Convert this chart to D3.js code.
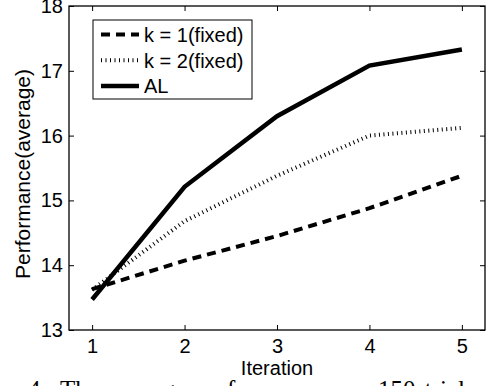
<!DOCTYPE html>
<html>
<head>
<meta charset="utf-8">
<style>
body { margin: 0; background: #fff; }
svg { display: block; background: #fff; }
svg text { font-family: "Liberation Sans", Arial, Helvetica, sans-serif; font-size: 20px; fill: #000; }
.caption { font-family: "Liberation Serif", "Times New Roman", serif; font-size: 25px; }
.tick line { stroke: #000; stroke-width: 1; }
.line { fill: none; stroke: #000; }
</style>
</head>
<body>
<div id="container"></div>
<script src="https://d3js.org/d3.v7.min.js"></script>
<script>

const width = 486;
const height = 386;

// values
const iterations = [1, 2, 3, 4, 5];
const k1Fixed = [13.63, 14.07, 14.45, 14.88, 15.38];
const k2Fixed = [13.62, 14.68, 15.38, 16.00, 16.12];
const alValues = [13.47, 15.21, 16.30, 17.08, 17.33];
const yTicks = [13, 14, 15, 16, 17, 18];
const seriesNames = ["k = 1(fixed)", "k = 2(fixed)", "AL"];

const plotL = 69, plotR = 485, plotT = 6, plotB = 330;

const x = d3.scaleLinear().domain([0.75, 5.25]).range([plotL, plotR]);
const y = d3.scaleLinear().domain([13, 18]).range([plotB, plotT]);

const svg = d3.select('#container').append('svg')
    .attr('width', width).attr('height', height);

// series styles (matlab-ish: dashed, dotted, solid)
const styles = [
    {width: 4, dash: "9,6"},
    {width: 4, dash: "1,3.5"},
    {width: 4.5, dash: null}
];
const series = [k1Fixed, k2Fixed, alValues];

const line = d3.line()
    .x((d, i) => x(iterations[i]))
    .y(d => y(d));

series.forEach((s, i) => {
    svg.append('path')
        .attr('class', 'line')
        .attr('d', line(s))
        .attr('stroke-width', styles[i].width)
        .attr('stroke-dasharray', styles[i].dash);
});

// axes, ticks pointing inward on all four sides
svg.append('g')
    .attr('transform', `translate(0,${plotB})`)
    .call(d3.axisBottom(x).tickValues(iterations).tickSize(-5).tickPadding(9).tickFormat(d3.format('d')))
    .call(g => g.select('.domain').remove())
    .selectAll('text').style('font-size', '20px').style('font-family', null);

svg.append('g')
    .attr('transform', `translate(0,${plotT})`)
    .call(d3.axisTop(x).tickValues(iterations).tickSize(-5).tickFormat(''))
    .call(g => g.select('.domain').remove());

svg.append('g')
    .attr('transform', `translate(${plotL},0)`)
    .call(d3.axisLeft(y).tickValues(yTicks).tickSize(-5).tickPadding(6).tickFormat(d3.format('d')))
    .call(g => g.select('.domain').remove())
    .selectAll('text').style('font-size', '20px').style('font-family', null);

svg.append('g')
    .attr('transform', `translate(${plotR},0)`)
    .call(d3.axisRight(y).tickValues(yTicks).tickSize(-5).tickFormat(''))
    .call(g => g.select('.domain').remove());

svg.append('rect')
    .attr('x', plotL).attr('y', plotT)
    .attr('width', plotR - plotL).attr('height', plotB - plotT)
    .attr('fill', 'none').attr('stroke', '#000').attr('stroke-width', 1.3);

// axis titles
svg.append('text')
    .attr('x', (plotL + plotR) / 2).attr('y', 375)
    .attr('text-anchor', 'middle')
    .text('Iteration');

svg.append('text')
    .attr('transform', `translate(30,${(plotT + plotB) / 2 + 6}) rotate(-90)`)
    .attr('text-anchor', 'middle')
    .style('font-size', '21px')
    .text('Performance(average)');

// legend
const legend = svg.append('g').attr('transform', 'translate(93,20)');
legend.append('rect')
    .attr('width', 159).attr('height', 79)
    .attr('fill', '#fff').attr('stroke', '#000').attr('stroke-width', 1);

seriesNames.forEach((name, i) => {
    const ry = 14.5 + i * 25.7;
    legend.append('line')
        .attr('class', 'line')
        .attr('x1', 8).attr('x2', 46)
        .attr('y1', ry).attr('y2', ry)
        .attr('stroke-width', styles[i].width)
        .attr('stroke-dasharray', styles[i].dash);
    legend.append('text')
        .attr('x', 51).attr('y', ry + 7.5)
        .text(name);
});

// figure caption, cut off by the page edge as in the source
const caption = svg.append('text').attr('class', 'caption').attr('y', 398);
caption.append('tspan').attr('x', 28).text('4.');
caption.append('tspan').attr('x', 60).attr('word-spacing', '3px')
    .text('The average performance over');
caption.append('tspan').attr('x', 378).attr('word-spacing', '3px')
    .text('150 trials');

</script>
</body>
</html>
